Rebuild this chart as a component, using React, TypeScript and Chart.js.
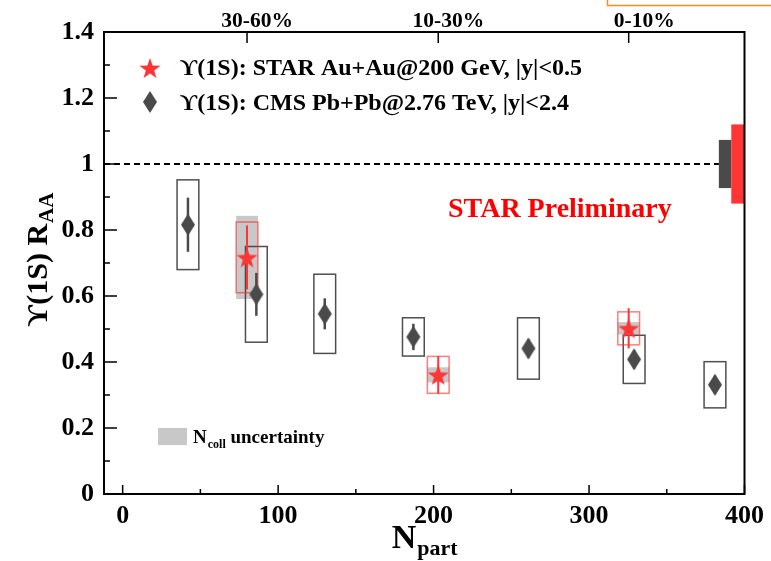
import React, { useEffect, useRef } from "react";
import { Chart, registerables } from "chart.js";

Chart.register(...registerables);

// CMS Upsilon(1S) R_AA vs Npart (Pb+Pb 2.76 TeV, |y|<2.4)
const CMS_NPART = [42, 86, 130, 187, 261, 329, 381];
const CMS_RAA = [0.816, 0.605, 0.546, 0.476, 0.441, 0.408, 0.331];
const CMS_STAT = [0.082, 0.065, 0.047, 0.04, 0.028, 0.028, 0.028];
const CMS_SYST = [0.136, 0.145, 0.12, 0.058, 0.093, 0.073, 0.07];
const CMS_GLOBAL = 0.073;

// STAR Upsilon(1S) R_AA vs Npart (Au+Au 200 GeV, |y|<0.5)
const STAR_NPART = [80, 203, 325.5];
const STAR_RAA = [0.717, 0.361, 0.502];
const STAR_STAT = [0.097, 0.057, 0.061];
const STAR_SYST = [0.107, 0.056, 0.05];
const STAR_NCOLL = [0.126, 0.023, 0.019];
const STAR_GLOBAL = 0.12;

const CENTRALITY_LABELS = ["30-60%", "10-30%", "0-10%"];
const X_TICKS = [0, 100, 200, 300, 400];
const X_MINOR = [50, 150, 250, 350];
const Y_TICKS = [0, 0.2, 0.4, 0.6, 0.8, 1, 1.2, 1.4];
const Y_MINOR = [0.1, 0.3, 0.5, 0.7, 0.9, 1.1, 1.3];

const CMS_LABEL = "ϒ(1S): CMS Pb+Pb@2.76 TeV, |y|<2.4";
const STAR_LABEL = "ϒ(1S): STAR Au+Au@200 GeV, |y|<0.5";

const FONT = "'Liberation Serif', 'DejaVu Serif', 'Times New Roman', serif";
const RED = "#ff3535";
const DARK = "#4a4a4a";
const NCOLL_GREY = "#c8c8c8";
const BOX_HALF = 7; // half width of systematic boxes, in Npart units

function makeStar(R: number, color: string): HTMLCanvasElement {
  const size = Math.ceil(2 * R + 4);
  const c = document.createElement("canvas");
  c.width = size;
  c.height = size;
  const g = c.getContext("2d")!;
  // centre the star's bounding box on the marker position
  g.translate(size / 2, size / 2 + 0.0955 * R);
  g.beginPath();
  for (let i = 0; i < 10; i++) {
    const r = i % 2 === 0 ? R : R * 0.4;
    const a = -Math.PI / 2 + (i * Math.PI) / 5;
    g.lineTo(r * Math.cos(a), r * Math.sin(a));
  }
  g.closePath();
  g.fillStyle = color;
  g.fill();
  return c;
}

function makeDiamond(w: number, h: number, color: string): HTMLCanvasElement {
  const c = document.createElement("canvas");
  c.width = Math.ceil(w + 2);
  c.height = Math.ceil(h + 2);
  const g = c.getContext("2d")!;
  const cx = c.width / 2;
  const cy = c.height / 2;
  g.beginPath();
  g.moveTo(cx, cy - h / 2);
  g.lineTo(cx + w / 2, cy);
  g.lineTo(cx, cy + h / 2);
  g.lineTo(cx - w / 2, cy);
  g.closePath();
  g.fillStyle = color;
  g.fill();
  return c;
}

function drawSub(
  ctx: CanvasRenderingContext2D,
  main: string,
  sub: string,
  x: number,
  y: number,
  mainSize: number,
  subSize: number,
  drop: number,
  align: "left" | "center"
) {
  ctx.textAlign = "left";
  ctx.textBaseline = "alphabetic";
  ctx.font = `bold ${mainSize}px ${FONT}`;
  const w1 = ctx.measureText(main).width;
  ctx.font = `bold ${subSize}px ${FONT}`;
  const w2 = ctx.measureText(sub).width;
  const x0 = align === "center" ? x - (w1 + w2) / 2 : x;
  ctx.font = `bold ${mainSize}px ${FONT}`;
  ctx.fillText(main, x0, y);
  ctx.font = `bold ${subSize}px ${FONT}`;
  ctx.fillText(sub, x0 + w1 + 1, y + drop);
  return x0 + w1 + 1 + w2;
}

export default function App() {
  const ref = useRef<HTMLCanvasElement | null>(null);

  useEffect(() => {
    const canvas = ref.current;
    if (!canvas) return;
    const starImg = makeStar(11, RED);
    const diamondImg = makeDiamond(14, 22, DARK);

    const decor = {
      id: "raaDecor",
      beforeDatasetsDraw(chart: any) {
        const { ctx, chartArea } = chart;
        const xs = chart.scales.x;
        const ys = chart.scales.y;
        const px = (v: number) => xs.getPixelForValue(v);
        const py = (v: number) => ys.getPixelForValue(v);
        ctx.save();

        // unity line
        ctx.setLineDash([6, 4]);
        ctx.lineWidth = 2;
        ctx.strokeStyle = "#000";
        ctx.beginPath();
        ctx.moveTo(chartArea.left, py(1));
        ctx.lineTo(px(383.5), py(1));
        ctx.stroke();
        ctx.setLineDash([]);

        // global uncertainties at unity
        ctx.fillStyle = DARK;
        ctx.fillRect(px(383.5), py(1 + CMS_GLOBAL), px(391.5) - px(383.5), py(1 - CMS_GLOBAL) - py(1 + CMS_GLOBAL));
        ctx.fillStyle = RED;
        ctx.fillRect(px(391.5), py(1 + STAR_GLOBAL), px(400) - px(391.5), py(1 - STAR_GLOBAL) - py(1 + STAR_GLOBAL));

        // Ncoll uncertainty boxes
        ctx.fillStyle = NCOLL_GREY;
        STAR_NPART.forEach((n, i) => {
          const t = py(STAR_RAA[i] + STAR_NCOLL[i]);
          const b = py(STAR_RAA[i] - STAR_NCOLL[i]);
          ctx.fillRect(px(n - BOX_HALF), t, px(n + BOX_HALF) - px(n - BOX_HALF), b - t);
        });

        // CMS systematic boxes
        ctx.strokeStyle = "rgba(60,60,60,0.9)";
        ctx.lineWidth = 1.5;
        CMS_NPART.forEach((n, i) => {
          const t = py(CMS_RAA[i] + CMS_SYST[i]);
          const b = py(CMS_RAA[i] - CMS_SYST[i]);
          ctx.strokeRect(px(n - BOX_HALF), t, px(n + BOX_HALF) - px(n - BOX_HALF), b - t);
        });

        // STAR systematic boxes
        ctx.strokeStyle = "rgba(255,40,40,0.6)";
        ctx.lineWidth = 1.5;
        STAR_NPART.forEach((n, i) => {
          const t = py(STAR_RAA[i] + STAR_SYST[i]);
          const b = py(STAR_RAA[i] - STAR_SYST[i]);
          ctx.strokeRect(px(n - BOX_HALF), t, px(n + BOX_HALF) - px(n - BOX_HALF), b - t);
        });

        // statistical error bars
        ctx.strokeStyle = DARK;
        ctx.lineWidth = 2.5;
        CMS_NPART.forEach((n, i) => {
          ctx.beginPath();
          ctx.moveTo(px(n), py(CMS_RAA[i] + CMS_STAT[i]));
          ctx.lineTo(px(n), py(CMS_RAA[i] - CMS_STAT[i]));
          ctx.stroke();
        });
        ctx.strokeStyle = RED;
        ctx.lineWidth = 2;
        STAR_NPART.forEach((n, i) => {
          ctx.beginPath();
          ctx.moveTo(px(n), py(STAR_RAA[i] + STAR_STAT[i]));
          ctx.lineTo(px(n), py(STAR_RAA[i] - STAR_STAT[i]));
          ctx.stroke();
        });
        ctx.restore();
      },
      afterDraw(chart: any) {
        const { ctx, chartArea } = chart;
        const { left, right, top, bottom } = chartArea;
        const xs = chart.scales.x;
        const ys = chart.scales.y;
        const px = (v: number) => xs.getPixelForValue(v);
        const py = (v: number) => ys.getPixelForValue(v);
        ctx.save();

        // frame
        ctx.strokeStyle = "#000";
        ctx.lineWidth = 2;
        ctx.strokeRect(left, top, right - left, bottom - top);

        // inward tick marks
        ctx.lineWidth = 1.5;
        ctx.beginPath();
        Y_TICKS.forEach((v) => {
          ctx.moveTo(left, py(v));
          ctx.lineTo(left + 13, py(v));
        });
        Y_MINOR.forEach((v) => {
          ctx.moveTo(left, py(v));
          ctx.lineTo(left + 6, py(v));
        });
        X_TICKS.forEach((v) => {
          ctx.moveTo(px(v), bottom);
          ctx.lineTo(px(v), bottom - 9);
        });
        X_MINOR.forEach((v) => {
          ctx.moveTo(px(v), bottom);
          ctx.lineTo(px(v), bottom - 5);
        });
        STAR_NPART.forEach((v) => {
          ctx.moveTo(px(v), top);
          ctx.lineTo(px(v), top + 11);
        });
        ctx.stroke();

        // centrality labels on the top axis
        ctx.fillStyle = "#000";
        ctx.font = `bold 21.5px ${FONT}`;
        ctx.textAlign = "right";
        ctx.textBaseline = "alphabetic";
        STAR_NPART.forEach((v, i) => {
          ctx.fillText(CENTRALITY_LABELS[i], px(v) + 46, 27);
        });

        // legend
        ctx.drawImage(starImg, 150 - starImg.width / 2, 68 - starImg.height / 2);
        ctx.drawImage(diamondImg, 150 - diamondImg.width / 2, 102 - diamondImg.height / 2);
        ctx.font = `bold 24px ${FONT}`;
        ctx.textAlign = "left";
        ctx.fillText(STAR_LABEL, 180, 75);
        ctx.fillText(CMS_LABEL, 180, 110);

        // Ncoll uncertainty legend
        ctx.fillStyle = NCOLL_GREY;
        ctx.fillRect(158, 428, 29, 17);
        ctx.fillStyle = "#000";
        const end = drawSub(ctx, "N", "coll", 193, 443, 19, 12, 5, "left");
        ctx.font = `bold 19px ${FONT}`;
        ctx.fillText(" uncertainty", end, 443);

        // preliminary label
        ctx.fillStyle = "#ff0000";
        ctx.font = `bold 28px ${FONT}`;
        ctx.fillText("STAR Preliminary", 448, 217);

        // axis titles
        ctx.fillStyle = "#000";
        drawSub(ctx, "N", "part", (left + right) / 2, 548, 34, 22, 7, "center");
        ctx.save();
        ctx.translate(47, (top + bottom) / 2 - 3);
        ctx.rotate(-Math.PI / 2);
        drawSub(ctx, "ϒ(1S) R", "AA", 0, 0, 30, 21, 6, "center");
        ctx.restore();

        // orange frame corner at the top right
        ctx.strokeStyle = "#ff8a1e";
        ctx.lineWidth = 1.5;
        ctx.beginPath();
        ctx.moveTo(607.5, 0);
        ctx.lineTo(607.5, 5.5);
        ctx.lineTo(771, 5.5);
        ctx.stroke();

        ctx.restore();
      },
    };

    const tickFont = { family: FONT, size: 26, weight: "bold" as const };
    const fmt = (v: number | string) => String(+Number(v).toFixed(1));

    const chart = new Chart(canvas, {
      type: "scatter",
      data: {
        datasets: [
          {
            label: STAR_LABEL,
            data: STAR_NPART.map((n, i) => ({ x: n, y: STAR_RAA[i] })),
            pointStyle: starImg,
            pointRadius: 11,
            showLine: false,
          },
          {
            label: CMS_LABEL,
            data: CMS_NPART.map((n, i) => ({ x: n, y: CMS_RAA[i] })),
            pointStyle: diamondImg,
            pointRadius: 11,
            showLine: false,
          },
        ],
      },
      options: {
        animation: false,
        responsive: false,
        maintainAspectRatio: false,
        devicePixelRatio: 1,
        layout: { padding: { top: 32, right: 23, left: 0, bottom: 0 } },
        plugins: {
          legend: { display: false },
          tooltip: { enabled: false },
        },
        scales: {
          x: {
            type: "linear",
            min: -12,
            max: 400,
            grid: { display: false, drawTicks: false },
            border: { display: false },
            afterBuildTicks: (s: any) => {
              s.ticks = X_TICKS.map((v) => ({ value: v }));
            },
            afterFit: (s: any) => {
              s.height = 67;
            },
            ticks: {
              font: tickFont,
              color: "#000",
              padding: 7,
              maxRotation: 0,
              autoSkip: false,
              callback: fmt,
            },
          },
          y: {
            type: "linear",
            min: 0,
            max: 1.4,
            grid: { display: false, drawTicks: false },
            border: { display: false },
            afterBuildTicks: (s: any) => {
              s.ticks = Y_TICKS.map((v) => ({ value: v }));
            },
            afterFit: (s: any) => {
              s.width = 104;
            },
            ticks: {
              font: tickFont,
              color: "#000",
              padding: 10,
              autoSkip: false,
              callback: fmt,
            },
          },
        },
      },
      plugins: [decor],
    });

    return () => chart.destroy();
  }, []);

  return (
    <div style={{ position: "fixed", left: 0, top: 0, width: 771, height: 561, background: "#fff" }}>
      <canvas ref={ref} width={771} height={561} style={{ width: 771, height: 561, display: "block" }} />
    </div>
  );
}
